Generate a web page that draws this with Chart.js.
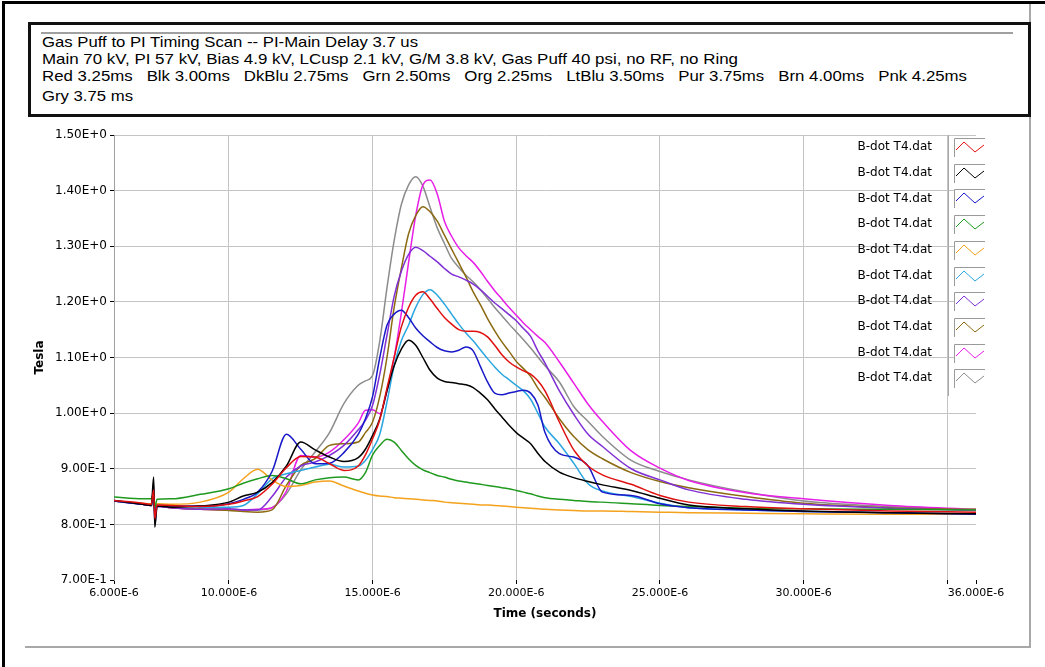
<!DOCTYPE html>
<html>
<head>
<meta charset="utf-8">
<script src="https://cdn.jsdelivr.net/npm/chart.js@4.4.1/dist/chart.umd.min.js"></script>
<style>
  body { margin: 0; background: #fff; width: 1045px; height: 667px; overflow: hidden; position: relative; }
  #frame { position: absolute; left: 2px; top: 1px; width: 1100px; height: 720px; border: 3px solid #000; }
  #panel { position: absolute; left: 25px; top: 4px; width: 1004px; height: 642px; border-right: 2px solid #a8a8a8; border-bottom: 2px solid #a8a8a8; }
  #titlebox { position: absolute; left: 28px; top: 22px; width: 997px; height: 89px; border: 3px solid #111; background: #fff; }
  #titlebox .rule { position: absolute; left: 10px; top: 7px; width: 972px; height: 2px; background: #a0a0a0; }
  #titlebox .ln { position: absolute; left: 11px; white-space: pre; font: 15px/17px "Liberation Sans", Arial, sans-serif; color: #000; transform-origin: 0 50%; }
  canvas { position: absolute; left: 0; top: 118px; }
</style>
</head>
<body>
<div id="frame"></div>
<div id="panel"></div>
<div id="titlebox">
  <div class="rule"></div>
  <div class="ln" data-w="376" style="top:8px">Gas Puff to PI Timing Scan -- PI-Main Delay 3.7 us</div>
  <div class="ln" data-w="696" style="top:25px">Main 70 kV, PI 57 kV, Bias 4.9 kV, LCusp 2.1 kV, G/M 3.8 kV, Gas Puff 40 psi, no RF, no Ring</div>
  <div class="ln" data-w="925" style="top:42px">Red 3.25ms   Blk 3.00ms   DkBlu 2.75ms   Grn 2.50ms   Org 2.25ms   LtBlu 3.50ms   Pur 3.75ms   Brn 4.00ms   Pnk 4.25ms</div>
  <div class="ln" data-w="91" style="top:62px">Gry 3.75 ms</div>
</div>
<canvas id="scan" width="1045" height="529"></canvas>
<script>
// time in microseconds (axis labels show it in seconds, E-6)
const times = [6, 7, 7.3, 7.38, 7.42, 7.5, 8, 9, 10, 10.5,
  11, 11.5, 12, 12.5, 13, 13.5, 14,
  14.5, 14.75, 15, 15.25, 15.5, 15.75, 16, 16.25, 16.5, 16.75,
  17, 17.25, 17.5, 17.75, 18, 18.25, 18.5, 18.75, 19, 19.25,
  19.5, 19.75, 20, 20.25, 20.5, 20.75, 21,
  21.5, 22, 22.5, 23, 24, 25, 26, 28, 30, 33, 36];

const red = [.843, .838, .836, .862, .810, .835, .834, .832, .836, .842,
  .850, .872, .902, .922, .921, .909, .897,
  .905, .925, .954, .988, 1.045, 1.100, 1.155, 1.190, 1.212, 1.218,
  1.205, 1.188, 1.172, 1.160, 1.150, 1.147, 1.147, 1.145, 1.137, 1.122,
  1.105, 1.092, 1.083, 1.076, 1.070, 1.058, 1.040,
  .984, .934, .905, .889, .872, .852, .840, .832, .828, .824, .822];
const black = [.843, .836, .834, .885, .795, .833, .831, .833, .840, .851,
  .858, .875, .905, .948, .934, .921, .913,
  .920, .935, .960, .990, 1.040, 1.085, 1.115, 1.131, 1.122, 1.100,
  1.077, 1.063, 1.057, 1.055, 1.053, 1.051, 1.046, 1.036, 1.024, 1.008,
  .993, .978, .965, .955, .945, .928, .913,
  .894, .884, .877, .871, .861, .847, .835, .828, .824, .821, .819];
const dkBlue = [.842, .836, .835, .850, .820, .834, .833, .833, .837, .845,
  .858, .895, .962, .935, .909, .910, .929,
  .962, .990, 1.030, 1.100, 1.158, 1.178, 1.185, 1.172, 1.153, 1.139,
  1.128, 1.118, 1.112, 1.110, 1.113, 1.119, 1.112, 1.084, 1.056, 1.036,
  1.033, 1.036, 1.039, 1.041, 1.036, 1.015, .965,
  .927, .921, .905, .858, .852, .837, .830, .826, .823, .821, .818];
const green = [.849, .846, .846, .858, .830, .845, .846, .854, .864, .874,
  .882, .888, .882, .873, .880, .884, .885,
  .880, .893, .925, .942, .953, .948, .933, .918, .906, .898,
  .893, .888, .885, .881, .878, .876, .874, .872, .870, .868,
  .866, .864, .861, .858, .855, .851, .848,
  .845, .843, .841, .840, .837, .834, .832, .829, .828, .827, .826];
const orange = [.842, .838, .837, .842, .832, .837, .836, .840, .858, .882,
  .899, .880, .868, .870, .876, .878, .869,
  .860, .856, .853, .851, .850, .848, .847, .846, .845, .844,
  .843, .842, .840, .839, .838, .837, .836, .835, .835, .834,
  .833, .832, .831, .830, .829, .828, .827,
  .826, .825, .824, .824, .823, .822, .821, .820, .819, .818, .818];
const ltBlue = [.842, .837, .836, .840, .830, .835, .833, .831, .831, .834,
  .855, .882, .891, .897, .903, .908, .903,
  .905, .915, .935, .962, 1.020, 1.085, 1.130, 1.158, 1.190, 1.213,
  1.222, 1.212, 1.196, 1.178, 1.160, 1.144, 1.130, 1.114, 1.098, 1.083,
  1.070, 1.060, 1.050, 1.040, 1.025, 1.000, .975,
  .945, .910, .873, .860, .850, .838, .830, .826, .823, .821, .819];
const purple = [.843, .836, .834, .870, .800, .832, .830, .827, .828, .826,
  .826, .850, .885, .905, .912, .924, .942,
  .970, .987, 1.014, 1.070, 1.140, 1.210, 1.255, 1.285, 1.298, 1.292,
  1.282, 1.272, 1.260, 1.250, 1.245, 1.239, 1.232, 1.222, 1.210, 1.198,
  1.188, 1.177, 1.166, 1.152, 1.138, 1.112, 1.090,
  1.040, .998, .962, .940, .900, .880, .862, .845, .836, .829, .825];
const brown = [.842, .836, .834, .840, .828, .833, .830, .827, .825, .823,
  .822, .826, .870, .906, .918, .942, .945,
  .948, .965, .984, 1.030, 1.100, 1.190, 1.260, 1.322, 1.355, 1.371,
  1.362, 1.345, 1.320, 1.295, 1.270, 1.245, 1.218, 1.195, 1.170, 1.148,
  1.128, 1.111, 1.093, 1.080, 1.066, 1.045, 1.028,
  .990, .958, .934, .918, .893, .877, .866, .850, .838, .830, .827];
const pink = [.842, .836, .834, .840, .828, .833, .830, .827, .826, .826,
  .827, .830, .860, .924, .921, .930, .952,
  .982, 1.005, 1.006, .999, 1.040, 1.100, 1.180, 1.270, 1.355, 1.410,
  1.419, 1.394, 1.345, 1.318, 1.297, 1.283, 1.271, 1.255, 1.237, 1.220,
  1.205, 1.190, 1.176, 1.162, 1.150, 1.138, 1.127,
  1.092, 1.054, 1.016, .985, .932, .901, .879, .857, .846, .834, .827];
const gray = [.842, .836, .834, .840, .828, .833, .830, .828, .827, .826,
  .826, .830, .855, .898, .930, .965, 1.017,
  1.050, 1.058, 1.068, 1.130, 1.225, 1.310, 1.375, 1.410, 1.425, 1.408,
  1.370, 1.333, 1.305, 1.278, 1.262, 1.248, 1.236, 1.222, 1.206, 1.190,
  1.175, 1.160, 1.146, 1.132, 1.117, 1.101, 1.085,
  1.056, 1.012, .985, .958, .915, .895, .880, .858, .842, .832, .826];

const seriesLabels = ['B-dot T4.dat', 'B-dot T4.dat', 'B-dot T4.dat', 'B-dot T4.dat', 'B-dot T4.dat',
  'B-dot T4.dat', 'B-dot T4.dat', 'B-dot T4.dat', 'B-dot T4.dat', 'B-dot T4.dat'];
const seriesValues = [red, black, dkBlue, green, orange, ltBlue, purple, brown, pink, gray];
const seriesColors = ['#e01010', '#000000', '#1818c8', '#1f9a1f', '#f4a21c',
  '#2aa6e0', '#8030d4', '#8b6a12', '#e81ee8', '#8c8c8c'];

const xTicks = [6, 10, 15, 20, 25, 30, 35, 36];
const xTickLabels = ['6.000E-6', '10.000E-6', '15.000E-6', '20.000E-6', '25.000E-6', '30.000E-6', '', '36.000E-6'];

// stretch the header lines to the widths of the original text
document.querySelectorAll('#titlebox .ln').forEach(el => {
    const w = el.getBoundingClientRect().width;
    el.style.transform = `scaleX(${el.dataset.w / w})`;
});

// legend on the right, drawn like the scope software does it
const sideLegend = {
    id: 'sideLegend',
    afterDraw(chart) {
        const ctx = chart.ctx;
        ctx.save();
        ctx.strokeStyle = '#a8a8a8';
        ctx.lineWidth = 1;
        ctx.beginPath();
        ctx.moveTo(948.5, 17);
        ctx.lineTo(948.5, 278);
        ctx.stroke();

        chart.data.datasets.forEach((ds, i) => {
            const cy = 29 + i * 25.7;
            ctx.fillStyle = '#000';
            ctx.font = '12px "DejaVu Sans"';
            ctx.textAlign = 'right';
            ctx.textBaseline = 'middle';
            ctx.fillText(ds.label, 932, cy);

            const bx = 954, by = Math.round(cy - 9);
            ctx.fillStyle = '#fff';
            ctx.fillRect(bx, by, 31, 19);
            ctx.strokeStyle = '#9a9a9a';
            ctx.lineWidth = 1;
            ctx.beginPath();
            ctx.moveTo(bx + 0.5, by + 19);
            ctx.lineTo(bx + 0.5, by + 0.5);
            ctx.lineTo(bx + 31, by + 0.5);
            ctx.stroke();

            ctx.strokeStyle = ds.borderColor;
            ctx.beginPath();
            ctx.moveTo(bx + 2, by + 12);
            ctx.lineTo(bx + 10, by + 4);
            ctx.lineTo(bx + 21, by + 14);
            ctx.lineTo(bx + 30, by + 7);
            ctx.stroke();
        });
        ctx.restore();
    }
};

Chart.defaults.font.family = '"DejaVu Sans", sans-serif';
Chart.defaults.font.size = 11;
Chart.defaults.color = '#000';

new Chart(document.getElementById('scan'), {
    type: 'line',
    data: {
        datasets: seriesValues.map((vals, i) => ({
            label: seriesLabels[i],
            data: times.map((t, j) => ({ x: t, y: vals[j] })),
            borderColor: seriesColors[i],
            borderWidth: 1.5,
            pointRadius: 0,
            fill: false,
            cubicInterpolationMode: 'monotone'
        }))
    },
    options: {
        responsive: false,
        devicePixelRatio: 1,
        animation: false,
        layout: { padding: { top: 17, right: 69, bottom: 0, left: 0 } },
        plugins: {
            legend: { display: false },
            tooltip: { enabled: false }
        },
        scales: {
            x: {
                type: 'linear',
                min: 6,
                max: 36,
                afterBuildTicks: axis => { axis.ticks = xTicks.map(v => ({ value: v })); },
                afterFit: axis => { axis.height = 67; },
                ticks: {
                    autoSkip: false,
                    maxRotation: 0,
                    padding: 3,
                    callback: (v, i) => xTickLabels[i]
                },
                grid: {
                    color: c => (c.tick && (c.tick.value === 6 || c.tick.value === 36)) ? 'rgba(0,0,0,0)' : '#c4c4c4',
                    tickColor: '#000',
                    tickLength: 4
                },
                border: { display: false },
                title: {
                    display: true,
                    text: 'Time (seconds)',
                    font: { size: 12, weight: 'bold' },
                    padding: { top: 0, bottom: 26 }
                }
            },
            y: {
                min: 0.7,
                max: 1.5,
                afterFit: axis => { axis.width = 114; },
                ticks: {
                    stepSize: 0.1,
                    padding: 3,
                    font: { size: 12 },
                    callback: v => {
                        const r = Math.round(v * 10) / 10;
                        return r >= 1 ? r.toFixed(2) + 'E+0' : (r * 10).toFixed(2) + 'E-1';
                    }
                },
                grid: {
                    color: c => (c.tick && Math.abs(c.tick.value - 0.7) < 1e-6) ? 'rgba(0,0,0,0)' : '#c4c4c4',
                    tickColor: '#000',
                    tickLength: 4
                },
                border: { display: true, color: '#a0a0a0' },
                title: {
                    display: true,
                    text: 'Tesla',
                    font: { size: 12, weight: 'bold' },
                    padding: { top: 33, bottom: 0 }
                }
            }
        }
    },
    plugins: [sideLegend]
});
</script>
</body>
</html>
